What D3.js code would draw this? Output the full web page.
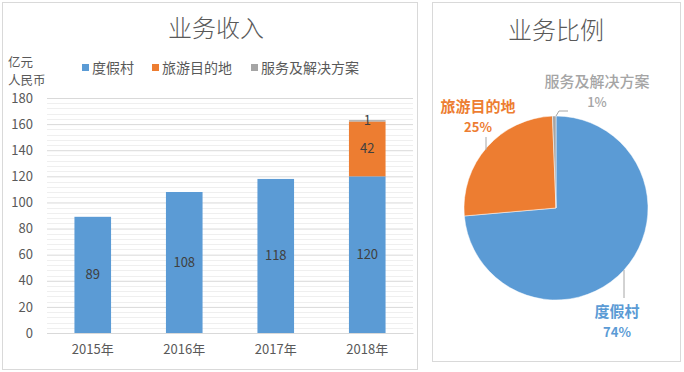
<!DOCTYPE html>
<html>
<head>
<meta charset="utf-8">
<script src="https://cdn.jsdelivr.net/npm/d3@7"></script>
<style>
  body { margin: 0; background: #fff; }
  svg { font-family: "Noto Sans CJK SC", "DejaVu Sans", sans-serif; }
</style>
</head>
<body>
<div id="canva"></div>
<script>
const years = ["2015年", "2016年", "2017年", "2018年"];
const seriesNames = ["度假村", "旅游目的地", "服务及解决方案"];
const resort = [89, 108, 118, 120];
const destination = [0, 0, 0, 42];
const services = [0, 0, 0, 1];
const colors = ["#5B9BD5", "#ED7D31", "#A5A5A5"];
const yTicks = [0, 20, 40, 60, 80, 100, 120, 140, 160, 180];
const pieValues = [120, 42, 1];
const pieLabels = ["74%", "25%", "1%"];

const width = 684, height = 372;
const svg = d3.select("#canva").append("svg")
  .attr("width", width).attr("height", height);

// panel borders
svg.append("rect").attr("x", 2.5).attr("y", 2.5).attr("width", 415).attr("height", 367)
  .attr("fill", "none").attr("stroke", "#d9d9d9");
svg.append("rect").attr("x", 432.5).attr("y", 2.5).attr("width", 248).attr("height", 359)
  .attr("fill", "none").attr("stroke", "#d9d9d9");

// ---- bar chart ----
svg.append("text").attr("x", 216).attr("y", 37).attr("text-anchor", "middle")
  .attr("font-size", 24).attr("font-weight", 300).attr("fill", "#595959").text("业务收入");

svg.append("text").attr("x", 8).attr("y", 67).attr("font-size", 12.5).attr("fill", "#595959").text("亿元");
svg.append("text").attr("x", 8).attr("y", 85).attr("font-size", 12.5).attr("fill", "#595959").text("人民币");

const legendX = [82, 152, 251];
seriesNames.forEach((name, i) => {
  const lg = svg.append("g").attr("transform", `translate(${legendX[i]},68)`);
  lg.append("rect").attr("x", 0).attr("y", -4).attr("width", 7).attr("height", 7).attr("fill", colors[i]);
  lg.append("text").attr("x", 10).attr("y", 5).attr("font-size", 14).attr("fill", "#595959").text(name);
});

const y = d3.scaleLinear().domain([0, 180]).range([333, 98]);
const x = d3.scaleBand().domain(years).range([47, 413]).paddingInner(0.6).paddingOuter(0.3);

// minor gridlines
const minor = d3.range(0, 181, 4).filter(v => v % 20 !== 0);
svg.append("g").selectAll("line").data(minor).join("line")
  .attr("x1", 47).attr("x2", 413)
  .attr("y1", d => Math.round(y(d)) + 0.5).attr("y2", d => Math.round(y(d)) + 0.5)
  .attr("stroke", "#efefef");

const yAxis = svg.append("g").attr("transform", "translate(47,0)")
  .call(d3.axisLeft(y).tickValues(yTicks).tickSize(-366).tickPadding(14));
yAxis.select(".domain").remove();
yAxis.selectAll(".tick line").attr("stroke", "#d9d9d9");
yAxis.selectAll(".tick text").attr("font-size", 13).attr("fill", "#595959")
  .attr("font-family", "'Noto Sans CJK SC', sans-serif");

const stackData = years.map((yr, i) => ({ year: yr, a: resort[i], b: destination[i], c: services[i] }));
const stack = d3.stack().keys(["a", "b", "c"])(stackData);

const g = svg.append("g");
stack.forEach((layer, li) => {
  layer.forEach(d => {
    if (d[1] - d[0] <= 0) return;
    g.append("rect")
      .attr("x", x(d.data.year)).attr("width", x.bandwidth())
      .attr("y", y(d[1])).attr("height", y(d[0]) - y(d[1]))
      .attr("fill", colors[li]);
    g.append("text")
      .attr("x", x(d.data.year) + x.bandwidth() / 2)
      .attr("y", (y(d[0]) + y(d[1])) / 2 + 4)
      .attr("text-anchor", "middle").attr("font-size", 13).attr("fill", "#404040")
      .text(d[1] - d[0]);
  });
});

const xAxis = svg.append("g").attr("transform", "translate(0,333)")
  .call(d3.axisBottom(x).tickSize(0).tickPadding(12));
xAxis.select(".domain").attr("stroke", "#d9d9d9");
xAxis.selectAll(".tick text").attr("font-size", 13).attr("fill", "#595959")
  .attr("font-family", "'Noto Sans CJK SC', sans-serif");

// ---- pie chart ----
svg.append("text").attr("x", 556).attr("y", 39).attr("text-anchor", "middle")
  .attr("font-size", 24).attr("font-weight", 300).attr("fill", "#595959").text("业务比例");

const cx = 556, cy = 208, r = 92;
const pie = d3.pie().sort(null)(pieValues);
const arc = d3.arc().innerRadius(0).outerRadius(r);
const pg = svg.append("g").attr("transform", `translate(${cx},${cy})`);
pg.selectAll("path").data(pie).join("path")
  .attr("d", arc).attr("fill", (d, i) => colors[i])
  .attr("stroke", "#fff").attr("stroke-width", 0.5);

// label positions (text centers) and leader lines
const labelPos = [[617, 312], [478, 107], [597, 82]];
const leaders = [
  [[624, 270], [624, 298]],
  [[486, 150], [486, 137]],
  [[556, 116], [559, 111], [568, 111]]
];
leaders.forEach(pts => {
  svg.append("path").attr("d", d3.line()(pts))
    .attr("fill", "none").attr("stroke", "#a6a6a6").attr("stroke-width", 1);
});
labelPos.forEach((p, i) => {
  const t = svg.append("text").attr("text-anchor", "middle")
    .attr("font-size", 15).attr("font-weight", i === 2 ? 500 : 700).attr("fill", colors[i]);
  t.append("tspan").attr("x", p[0]).attr("y", p[1] + 5).text(seriesNames[i]);
  t.append("tspan").attr("x", p[0]).attr("y", p[1] + 25).attr("font-size", 13).text(pieLabels[i]);
});
</script>
</body>
</html>
